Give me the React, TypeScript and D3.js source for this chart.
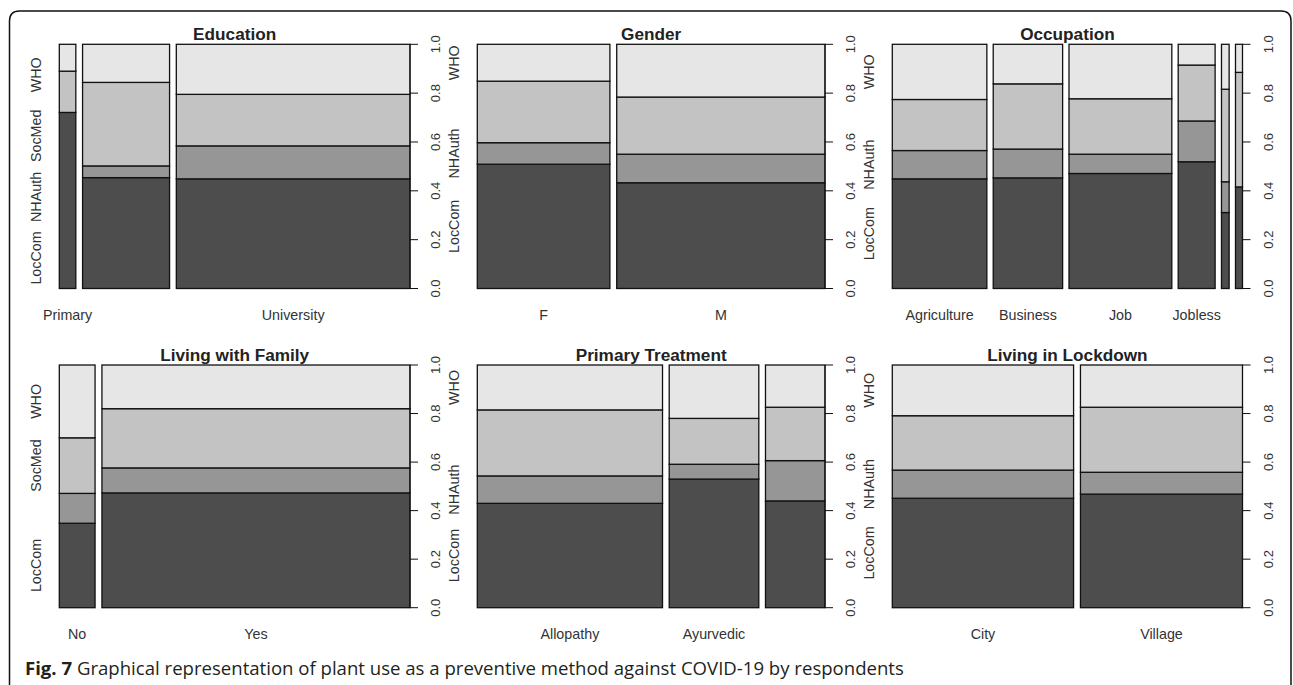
import React, { useEffect, useRef } from 'react';
import * as d3 from 'd3';

// information sources (stack order, bottom to top) and their grays
const sources = ['LocCom', 'NHAuth', 'SocMed', 'WHO'];
const sourceColors = ['#4d4d4d', '#969696', '#c3c3c3', '#e6e6e6'];
const yTicks = [0, 0.2, 0.4, 0.6, 0.8, 1.0];

// Education
const educationLevels = ['Primary', 'Secondary', 'University'];
const educationWidths = [0.049, 0.258, 0.693];
const educationShares = [
  [0.721, 0, 0.169, 0.11],
  [0.454, 0.048, 0.342, 0.156],
  [0.449, 0.135, 0.211, 0.205],
];

// Gender
const genderLevels = ['F', 'M'];
const genderWidths = [0.389, 0.611];
const genderShares = [
  [0.509, 0.088, 0.252, 0.151],
  [0.433, 0.117, 0.234, 0.216],
];

// Occupation
const occupationLevels = ['Agriculture', 'Business', 'Job', 'Jobless', 'Retired', 'Student'];
const occupationWidths = [0.297, 0.218, 0.323, 0.116, 0.024, 0.022];
const occupationShares = [
  [0.449, 0.116, 0.209, 0.226],
  [0.453, 0.118, 0.267, 0.162],
  [0.471, 0.079, 0.227, 0.223],
  [0.519, 0.167, 0.229, 0.085],
  [0.311, 0.126, 0.379, 0.184],
  [0.416, 0, 0.469, 0.115],
];

// Living with family
const familyLevels = ['No', 'Yes'];
const familyWidths = [0.104, 0.896];
const familyShares = [
  [0.348, 0.123, 0.229, 0.3],
  [0.473, 0.103, 0.244, 0.18],
];

// Primary treatment
const treatmentLevels = ['Allopathy', 'Ayurvedic', 'Homeopathy'];
const treatmentWidths = [0.554, 0.268, 0.178];
const treatmentShares = [
  [0.43, 0.113, 0.272, 0.185],
  [0.53, 0.061, 0.189, 0.22],
  [0.44, 0.166, 0.22, 0.174],
];

// Living in lockdown
const lockdownLevels = ['City', 'Village'];
const lockdownWidths = [0.528, 0.472];
const lockdownShares = [
  [0.451, 0.116, 0.224, 0.209],
  [0.468, 0.09, 0.268, 0.174],
];

const panels = [
  { title: 'Education', levels: educationLevels, widths: educationWidths, shares: educationShares },
  { title: 'Gender', levels: genderLevels, widths: genderWidths, shares: genderShares },
  { title: 'Occupation', levels: occupationLevels, widths: occupationWidths, shares: occupationShares },
  { title: 'Living with Family', levels: familyLevels, widths: familyWidths, shares: familyShares },
  { title: 'Primary Treatment', levels: treatmentLevels, widths: treatmentWidths, shares: treatmentShares },
  { title: 'Living in Lockdown', levels: lockdownLevels, widths: lockdownWidths, shares: lockdownShares },
];

const captionBold = 'Fig. 7';
const captionText = ' Graphical representation of plant use as a preventive method against COVID-19 by respondents';

export default function App() {
  const ref = useRef<SVGSVGElement>(null);

  useEffect(() => {
    const width = 1293;
    const height = 685;
    const font = '"Liberation Sans", Arial, Helvetica, sans-serif';
    const colLeft = [59.3, 477.3, 892.3];
    const colRight = [410, 825, 1242.5];
    const rowTop = [44.3, 365];
    const rowBottom = [288.5, 607.7];
    const off = 0.02; // spineplot gap between bars
    const labelSize = 14.3;

    const svg = d3.select(ref.current).attr('viewBox', [0, 0, width, height]);
    svg.selectAll('*').remove();

    // outer frame, rounded on top
    const r = 10;
    svg
      .append('path')
      .attr(
        'd',
        `M9.5,${height + 2} L9.5,${11 + r} Q9.5,11 ${9.5 + r},11 L${1291 - r},11 Q1291,11 1291,${11 + r} L1291,${height + 2}`,
      )
      .attr('fill', 'none')
      .attr('stroke', '#111')
      .attr('stroke-width', 1.5);

    panels.forEach((p, i) => {
      const col = i % 3;
      const row = Math.floor(i / 3);
      const n = p.levels.length;

      const x = d3
        .scaleLinear()
        .domain([0, 1 + off * (n - 1)])
        .range([colLeft[col], colRight[col]]);
      const y = d3.scaleLinear().domain([0, 1]).range([rowBottom[row], rowTop[row]]);

      const g = svg.append('g').attr('font-family', font);

      // bar positions along x
      const total = d3.sum(p.widths);
      let acc = 0;
      const bars = p.levels.map((level, j) => {
        const w = p.widths[j] / total;
        const x0 = acc + j * off;
        acc += w;
        const st = d3.sum(p.shares[j]);
        let c = 0;
        const segs = p.shares[j].map((s, k) => {
          const y0 = c / st;
          c += s;
          return { k, y0, y1: c / st };
        });
        return { level, x0, x1: x0 + w, segs };
      });

      bars.forEach((b) => {
        g.selectAll(null)
          .data(b.segs.filter((s) => s.y1 > s.y0))
          .enter()
          .append('rect')
          .attr('x', x(b.x0))
          .attr('width', x(b.x1) - x(b.x0))
          .attr('y', (s) => y(s.y1))
          .attr('height', (s) => y(s.y0) - y(s.y1))
          .attr('fill', (s) => sourceColors[s.k])
          .attr('stroke', '#111')
          .attr('stroke-width', 1.3);
      });

      // title
      g.append('text')
        .attr('x', (colLeft[col] + colRight[col]) / 2)
        .attr('y', rowTop[row] - 4)
        .attr('text-anchor', 'middle')
        .attr('font-weight', 'bold')
        .attr('font-size', 17.2)
        .attr('fill', '#222')
        .text(p.title);

      // right axis
      const ax = colRight[col];
      g.append('line')
        .attr('x1', ax)
        .attr('x2', ax)
        .attr('y1', y(0))
        .attr('y2', y(1))
        .attr('stroke', '#111');
      g.selectAll(null)
        .data(yTicks)
        .enter()
        .append('line')
        .attr('x1', ax)
        .attr('x2', ax + 8)
        .attr('y1', (d) => y(d))
        .attr('y2', (d) => y(d))
        .attr('stroke', '#111');
      g.selectAll(null)
        .data(yTicks)
        .enter()
        .append('text')
        .attr('transform', (d) => `translate(${ax + 30},${y(d)}) rotate(-90)`)
        .attr('text-anchor', 'middle')
        .attr('font-size', 13)
        .attr('fill', '#333')
        .text((d) => d3.format('.1f')(d));

      // left labels: midpoints of first bar, equidistant if a segment is tiny
      const first = bars[0].segs;
      const equidist = first.some((s) => s.y1 - s.y0 < 0.05);
      const yat = first.map((s, k) =>
        equidist ? (k + 0.5) / sources.length : (s.y0 + s.y1) / 2,
      );
      let lastTop = -Infinity;
      sources.forEach((src, k) => {
        const t = g
          .append('text')
          .attr('transform', `translate(${colLeft[col] - 18.5},${y(yat[k])}) rotate(-90)`)
          .attr('text-anchor', 'middle')
          .attr('font-size', labelSize)
          .attr('fill', '#333')
          .text(src);
        const len = (t.node() as SVGTextElement).getComputedTextLength();
        const lo = y(0) - y(yat[k]) - len / 2;
        if (lo < lastTop + 8) t.remove();
        else lastTop = lo + len;
      });

      // bottom labels, skipped when they would collide
      let lastRight = -Infinity;
      bars.forEach((b) => {
        const cx = x((b.x0 + b.x1) / 2);
        const t = g
          .append('text')
          .attr('x', cx)
          .attr('y', rowBottom[row] + 31)
          .attr('text-anchor', 'middle')
          .attr('font-size', labelSize)
          .attr('fill', '#333')
          .text(b.level);
        const len = (t.node() as SVGTextElement).getComputedTextLength();
        if (cx - len / 2 < lastRight + 12) t.remove();
        else lastRight = cx + len / 2;
      });
    });

    // caption
    const cap = svg
      .append('text')
      .attr('x', 25)
      .attr('y', 675)
      .attr('font-family', '"Open Sans", "Noto Sans", sans-serif')
      .attr('font-size', 16.5)
      .attr('fill', '#231f20');
    cap.append('tspan').attr('font-weight', 'bold').text(captionBold);
    cap.append('tspan').text(captionText);
    const capLen = (cap.node() as SVGTextElement).getComputedTextLength();
    cap.attr('font-size', (16.5 * 879) / capLen);
  });

  return (
    <svg
      ref={ref}
      width={1293}
      height={685}
      style={{ position: 'absolute', left: 0, top: 0, background: '#fff' }}
    />
  );
}
